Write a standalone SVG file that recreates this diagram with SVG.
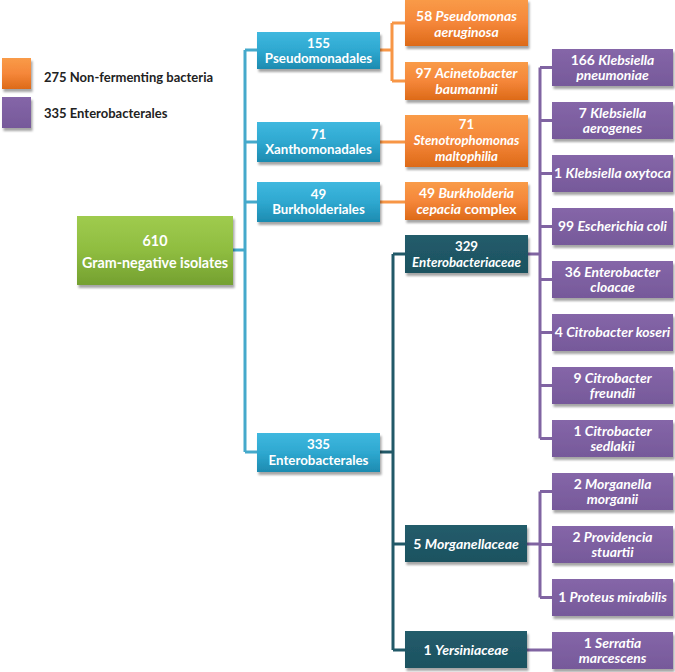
<svg xmlns="http://www.w3.org/2000/svg" width="675" height="672" viewBox="0 0 675 672">
<defs>
<linearGradient id="gGreen" x1="0" y1="0" x2="0" y2="1"><stop offset="0" stop-color="#9fcb4e"/><stop offset="0.5" stop-color="#8fbd40"/><stop offset="1" stop-color="#74a030"/></linearGradient>
<linearGradient id="gBlue" x1="0" y1="0" x2="0" y2="1"><stop offset="0" stop-color="#3fb8df"/><stop offset="0.5" stop-color="#2ea8d0"/><stop offset="1" stop-color="#1d8bb0"/></linearGradient>
<linearGradient id="gOrange" x1="0" y1="0" x2="0" y2="1"><stop offset="0" stop-color="#f99b48"/><stop offset="0.5" stop-color="#f5873a"/><stop offset="1" stop-color="#dd6a18"/></linearGradient>
<linearGradient id="gPurple" x1="0" y1="0" x2="0" y2="1"><stop offset="0" stop-color="#8566a8"/><stop offset="1" stop-color="#76599a"/></linearGradient>
<linearGradient id="gTeal" x1="0" y1="0" x2="0" y2="1"><stop offset="0" stop-color="#225c6b"/><stop offset="1" stop-color="#1d5260"/></linearGradient>
<filter id="sh" x="-10%" y="-20%" width="125%" height="150%"><feDropShadow dx="1.5" dy="3" stdDeviation="1.3" flood-color="#000" flood-opacity="0.35"/></filter>
</defs>
<style>
text{font-family:Lato,"Liberation Sans",Arial,sans-serif;font-weight:bold;fill:#fff;text-anchor:middle;font-size:13.3px}
.lg{fill:#222;text-anchor:start;font-size:13px}
.big{font-size:14.3px}
.t14{font-size:14px}
.s{font-size:13.9px}
.s3{font-size:13.2px}
.i{font-style:italic}
.c{fill:none;stroke-width:3}
.cb{stroke:#45a9cb}.co{stroke:#f79646}.ct{stroke:#215968}.cp{stroke:#8064a2}
.green{fill:url(#gGreen);filter:url(#sh)}
.blue{fill:url(#gBlue);filter:url(#sh)}
.orange{fill:url(#gOrange);filter:url(#sh)}
.purple{fill:url(#gPurple);filter:url(#sh)}
.teal{fill:url(#gTeal);filter:url(#sh)}
</style>
<g id="legend">
<rect class="orange" x="2" y="58" width="29" height="31"/>
<rect class="purple" x="2" y="97" width="29" height="31"/>
<text class="lg" x="44" y="82">275 Non-fermenting bacteria</text>
<text class="lg" x="44" y="118">335 Enterobacterales</text>
</g>
<g id="connectors">
<path class="c cb" d="M233,250H245M245,50V452M245,50H257M245,142H257M245,202H257M245,452H257"/>
<path class="c co" d="M380,50H392M392,23V81M392,23H405M392,81H405M380,142H405M380,202H405"/>
<path class="c ct" d="M380,452H393M393,254V650M393,254H405M393,544H405M393,650H405"/>
<path class="c cp" d="M528,254H540M540,67.5V438.5M540,67.5H552M540,120.5H552M540,173.5H552M540,226.5H552M540,279.5H552M540,332.5H552M540,385.5H552M540,438.5H552M527,544H540M540,491.5V597.5M540,491.5H552M540,544.5H552M540,597.5H552M527,650H552"/>
</g>
<g id="root"><rect class="green" x="77" y="216" width="156" height="69"/><text class="big" x="155" y="246">610</text><text class="big" x="155" y="268">Gram-negative isolates</text></g>
<g id="pseudomonadales"><rect class="blue" x="257" y="32" width="123" height="37"/><text x="318.5" y="47.5">155</text><text x="318.5" y="63">Pseudomonadales</text></g>
<g id="xanthomonadales"><rect class="blue" x="257" y="122" width="123" height="40"/><text x="318.5" y="138.5">71</text><text x="318.5" y="154">Xanthomonadales</text></g>
<g id="burkholderiales"><rect class="blue" x="257" y="182" width="123" height="40"/><text x="318.5" y="198.5">49</text><text x="318.5" y="214">Burkholderiales</text></g>
<g id="enterobacterales"><rect class="blue" x="257" y="433" width="123" height="39"/><text x="318.5" y="449">335</text><text x="318.5" y="465">Enterobacterales</text></g>
<g id="p-aeruginosa"><rect class="orange" x="405" y="-1" width="123" height="47"/><text class="s" x="466.5" y="20.5">58 <tspan class="i">Pseudomonas</tspan></text><text class="s i" x="466.5" y="36.5">aeruginosa</text></g>
<g id="a-baumannii"><rect class="orange" x="405" y="62" width="123" height="38"/><text class="s" x="466.5" y="77.5">97 <tspan class="i">Acinetobacter</tspan></text><text class="s i" x="466.5" y="93.5">baumannii</text></g>
<g id="s-maltophilia"><rect class="orange" x="405" y="115" width="123" height="52"/><text class="s3" x="466.5" y="128.5">71</text><text class="s3 i" x="466.5" y="144.5">Stenotrophomonas</text><text class="s3 i" x="466.5" y="161">maltophilia</text></g>
<g id="b-cepacia"><rect class="orange" x="405" y="182" width="123" height="38"/><text class="s" x="466.5" y="198">49 <tspan class="i">Burkholderia</tspan></text><text class="s" x="466.5" y="213.5"><tspan class="i">cepacia</tspan> complex</text></g>
<g id="enterobacteriaceae"><rect class="teal" x="405" y="235" width="123" height="38"/><text x="466.5" y="251">329</text><text class="i" x="466.5" y="266.5">Enterobacteriaceae</text></g>
<g id="morganellaceae"><rect class="teal" x="405" y="525" width="122" height="37"/><text class="t14" x="466" y="549">5 <tspan class="i">Morganellaceae</tspan></text></g>
<g id="yersiniaceae"><rect class="teal" x="405" y="631" width="122" height="37"/><text class="t14" x="466" y="655">1 <tspan class="i">Yersiniaceae</tspan></text></g>
<g id="k-pneumoniae"><rect class="purple" x="552" y="49" width="121" height="37"/><text class="s" x="612.5" y="64.5">166 <tspan class="i">Klebsiella</tspan></text><text class="s i" x="612.5" y="80">pneumoniae</text></g>
<g id="k-aerogenes"><rect class="purple" x="552" y="102" width="121" height="37"/><text class="s" x="612.5" y="117.5">7 <tspan class="i">Klebsiella</tspan></text><text class="s i" x="612.5" y="133">aerogenes</text></g>
<g id="k-oxytoca"><rect class="purple" x="552" y="155" width="121" height="37"/><text class="s" x="612.5" y="178">1 <tspan class="i">Klebsiella oxytoca</tspan></text></g>
<g id="e-coli"><rect class="purple" x="552" y="208" width="121" height="37"/><text class="s" x="612.5" y="231">99 <tspan class="i">Escherichia coli</tspan></text></g>
<g id="e-cloacae"><rect class="purple" x="552" y="261" width="121" height="37"/><text class="s" x="612.5" y="276.5">36 <tspan class="i">Enterobacter</tspan></text><text class="s i" x="612.5" y="292">cloacae</text></g>
<g id="c-koseri"><rect class="purple" x="552" y="314" width="121" height="37"/><text class="s" x="612.5" y="337">4 <tspan class="i">Citrobacter koseri</tspan></text></g>
<g id="c-freundii"><rect class="purple" x="552" y="367" width="121" height="37"/><text class="s" x="612.5" y="382.5">9 <tspan class="i">Citrobacter</tspan></text><text class="s i" x="612.5" y="398">freundii</text></g>
<g id="c-sedlakii"><rect class="purple" x="552" y="420" width="121" height="37"/><text class="s" x="612.5" y="435.5">1 <tspan class="i">Citrobacter</tspan></text><text class="s i" x="612.5" y="451">sedlakii</text></g>
<g id="m-morganii"><rect class="purple" x="552" y="473" width="121" height="37"/><text class="s" x="612.5" y="488.5">2 <tspan class="i">Morganella</tspan></text><text class="s i" x="612.5" y="504">morganii</text></g>
<g id="p-stuartii"><rect class="purple" x="552" y="526" width="121" height="37"/><text class="s" x="612.5" y="541.5">2 <tspan class="i">Providencia</tspan></text><text class="s i" x="612.5" y="557">stuartii</text></g>
<g id="p-mirabilis"><rect class="purple" x="552" y="579" width="121" height="37"/><text class="s" x="612.5" y="602">1 <tspan class="i">Proteus mirabilis</tspan></text></g>
<g id="s-marcescens"><rect class="purple" x="552" y="632" width="121" height="37"/><text class="s" x="612.5" y="647.5">1 <tspan class="i">Serratia</tspan></text><text class="s i" x="612.5" y="663">marcescens</text></g>
</svg>
